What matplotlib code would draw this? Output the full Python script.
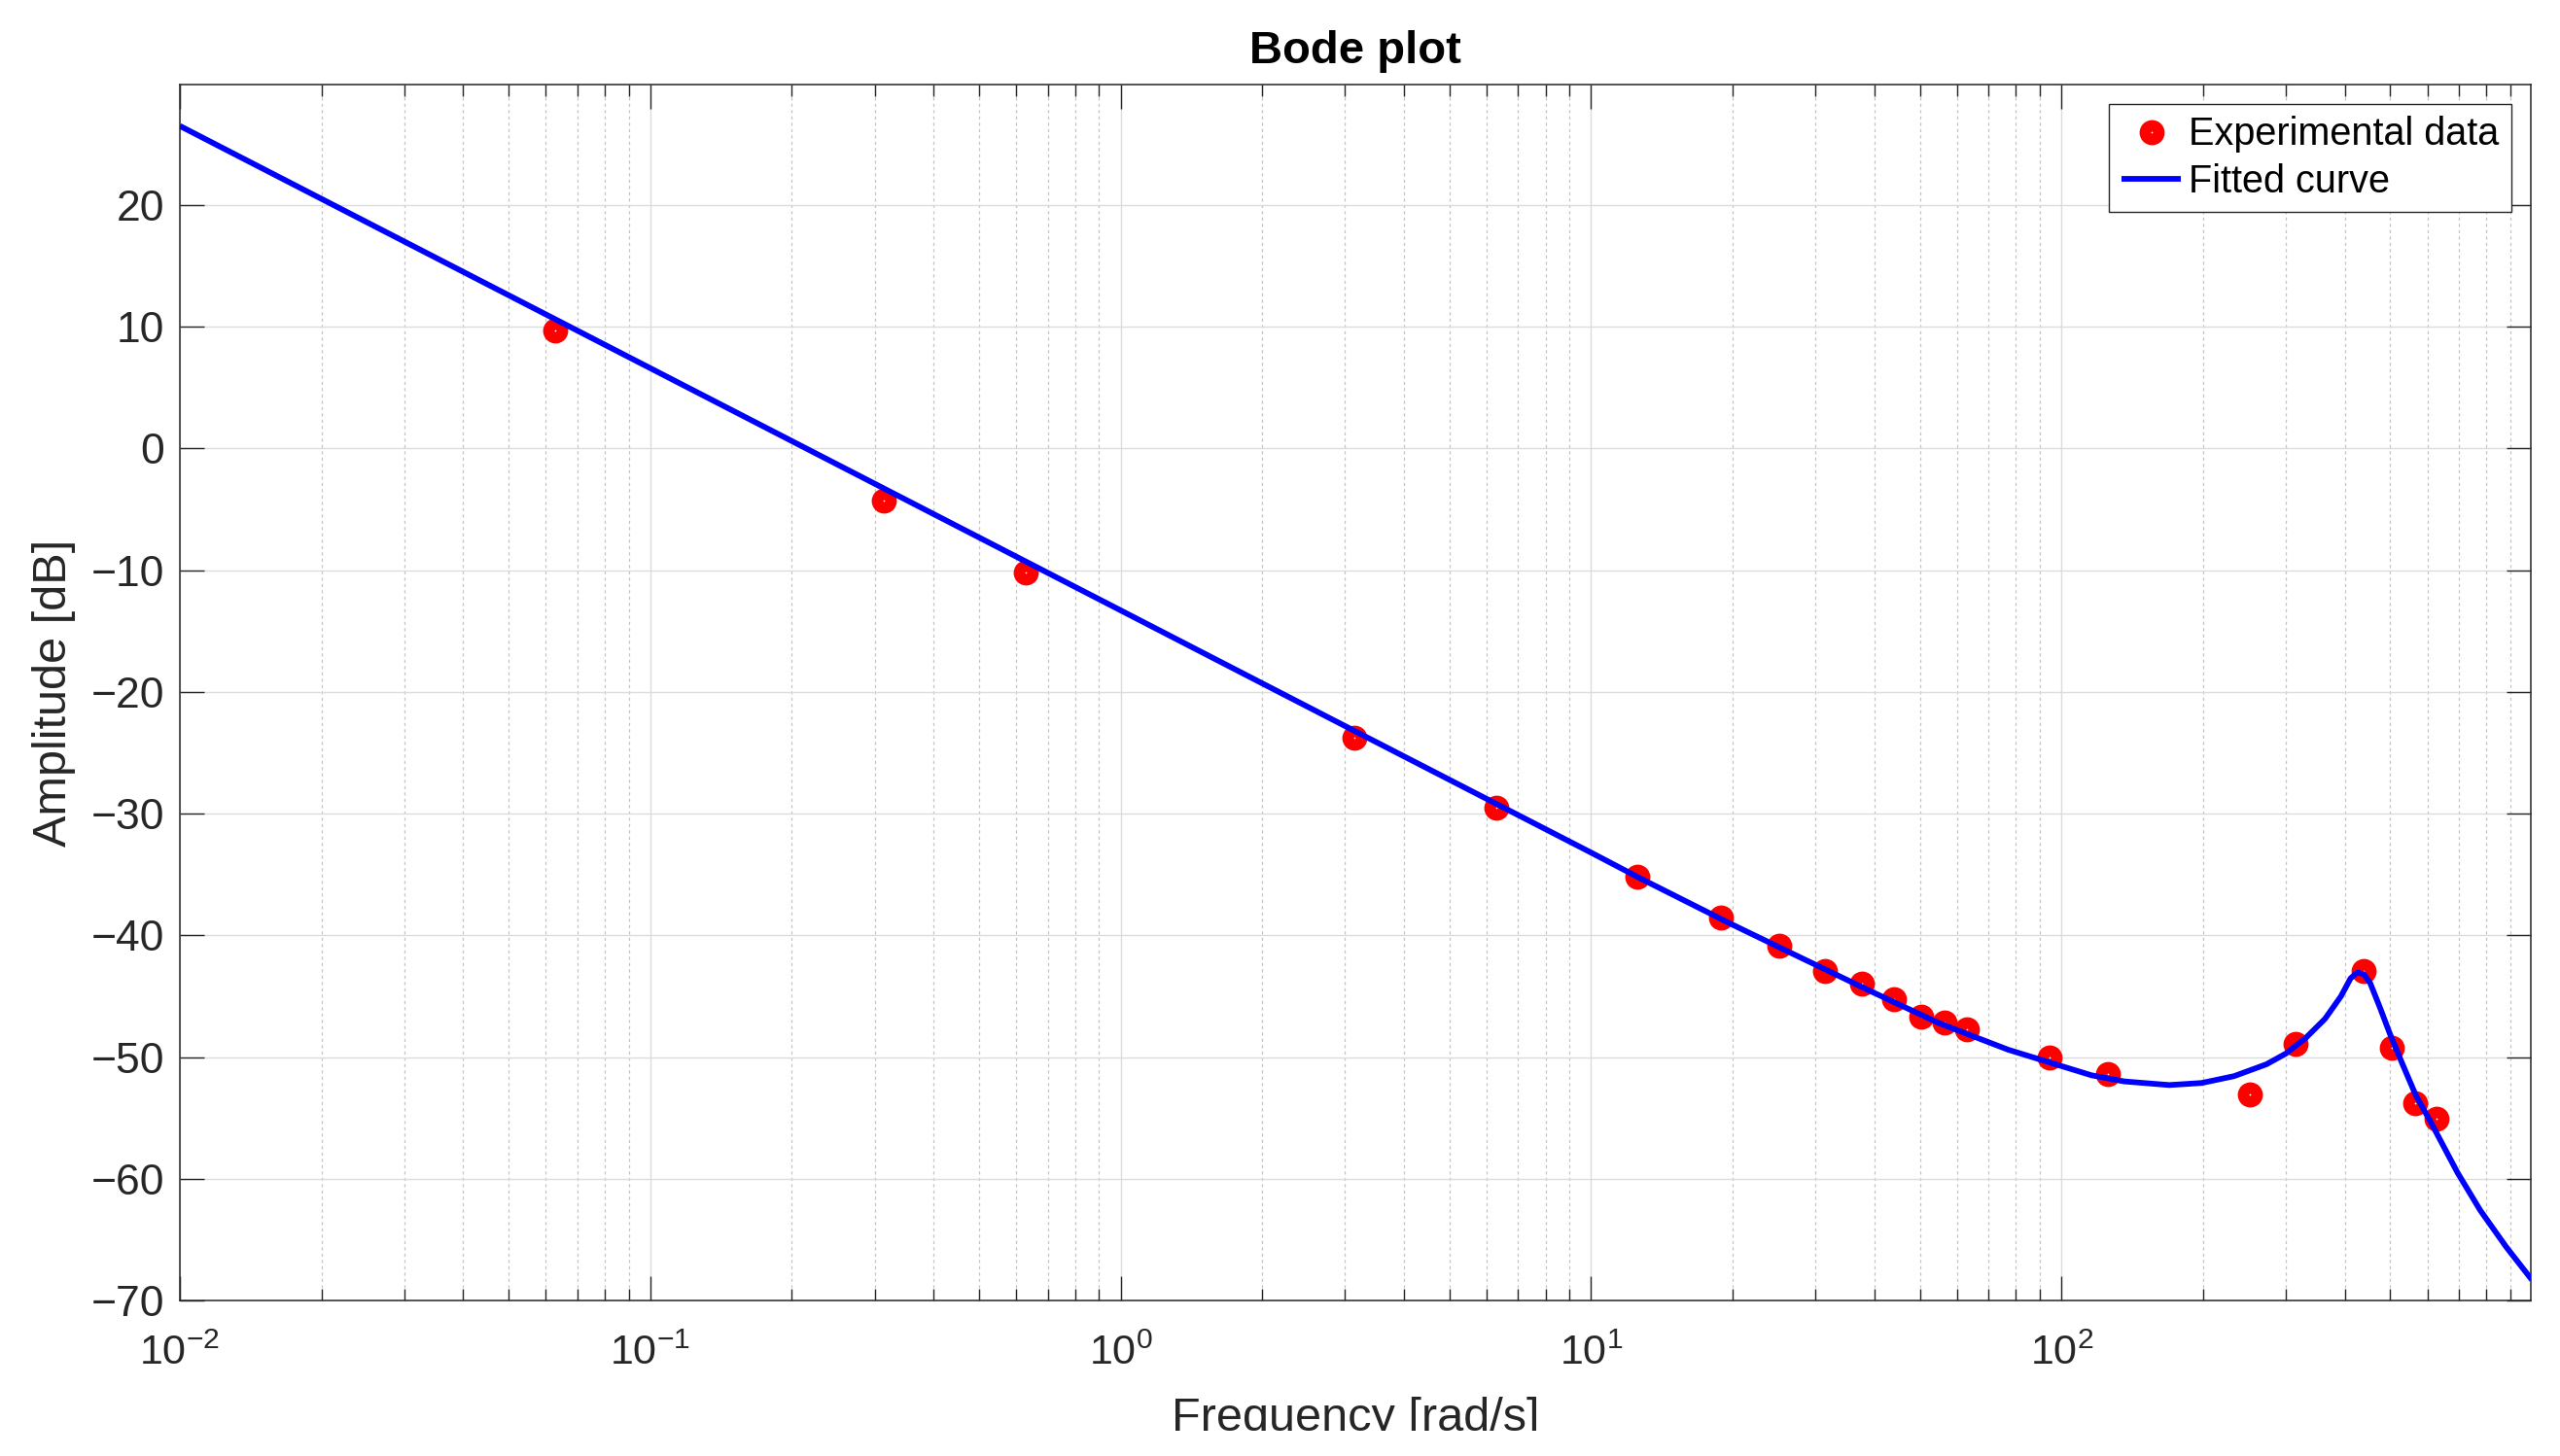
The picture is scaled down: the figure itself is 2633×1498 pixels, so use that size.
import math
import matplotlib
matplotlib.use("Agg")
import matplotlib.pyplot as plt
from matplotlib.ticker import FixedLocator, FuncFormatter, NullFormatter
from matplotlib.transforms import Bbox, TransformedBbox

# ---------------- data ----------------
exp_freq = [0.0628, 0.314, 0.628, 3.14, 6.28, 12.57, 18.85, 25.13, 31.42, 37.70,
            43.98, 50.27, 56.55, 62.83, 94.25, 125.66, 251.3, 314.2, 439.8,
            502.7, 565.5, 628.3]
exp_amp = [9.7, -4.3, -10.2, -23.8, -29.55, -35.2, -38.55, -40.86, -42.94, -43.98,
           -45.26, -46.65, -47.13, -47.74, -50.05, -51.4, -53.1, -48.9, -42.95,
           -49.25, -53.8, -55.05]

fit_freq = [0.01, 0.1, 1.0, 3.14, 10.0, 12.7, 19.8, 27.8, 39.1, 54.8, 77.1,
            115.9, 135.9, 169.5, 198.6, 232.7, 272.9, 300.0, 330.0, 363.3,
            392.9, 411.8, 425.7, 439.5, 453.3, 475.4, 498.8, 531.0, 566.0,
            612.7, 695.0, 777.0, 882.0, 1000.0]
fit_amp = [26.5, 6.6, -13.3, -23.2, -33.2, -35.3, -39.05, -41.8, -44.55, -47.2, -49.4,
           -51.5, -52.0, -52.3, -52.13, -51.57, -50.59, -49.71, -48.46, -46.86,
           -45.0, -43.53, -43.05, -43.2, -43.93, -45.93, -48.06, -50.59, -53.1,
           -55.5, -59.5, -62.6, -65.6, -68.3]

y_ticks = [-70, -60, -50, -40, -30, -20, -10, 0, 10, 20]
x_major = [1e-2, 1e-1, 1e0, 1e1, 1e2]

title_text = "Bode plot"
xlabel_text = "Frequency [rad/s]"
ylabel_text = "Amplitude [dB]"
legend_labels = ["Experimental data", "Fitted curve"]

# ---------------- style ----------------
plt.rcParams["font.family"] = ["Liberation Sans", "DejaVu Sans"]
plt.rcParams["mathtext.fontset"] = "custom"
plt.rcParams["mathtext.rm"] = "Liberation Sans"
plt.rcParams["mathtext.it"] = "Liberation Sans:italic"
plt.rcParams["mathtext.bf"] = "Liberation Sans:bold"

W, H = 2633, 1498
DPI = 100
fig = plt.figure(figsize=(W / DPI, H / DPI), dpi=DPI)
fig.subplots_adjust(left=185 / W, right=2603 / W, bottom=1 - 1338 / H, top=1 - 87 / H)
ax = fig.add_subplot(111)

axcol = "#262626"

ax.plot(exp_freq, exp_amp, linestyle="none", marker="o", markersize=10.2,
        markeredgewidth=8.4, markeredgecolor="#ff0000", markerfacecolor="white",
        label=legend_labels[0], zorder=3)
ax.plot(fit_freq, fit_amp, color="#0000ff", linewidth=4.2, label=legend_labels[1],
        zorder=4, solid_joinstyle="round", solid_capstyle="butt")

ax.set_xscale("log")
ax.set_xlim(0.01, 995)
ax.set_ylim(-70, 29.9)

ax.xaxis.set_major_locator(FixedLocator(x_major))
minors = [m * 10 ** e for e in range(-2, 3) for m in range(2, 10)]
ax.xaxis.set_minor_locator(FixedLocator(minors))
ax.xaxis.set_major_formatter(FuncFormatter(lambda v, p: r"$\mathregular{10^{%d}}$" % round(math.log10(v))))
ax.xaxis.set_minor_formatter(NullFormatter())
ax.set_yticks(y_ticks)

ax.grid(True, which="major", axis="both", color="#dcdcdc", linewidth=1.0, linestyle="-", zorder=0)
ax.grid(True, which="minor", axis="x", color="#c4c4c4", linewidth=0.9, linestyle=(0, (2.6, 2.6)), zorder=0)
ax.set_axisbelow(True)

for s in ax.spines.values():
    s.set_color(axcol)
    s.set_linewidth(1.1)

ax.tick_params(axis="both", which="both", direction="in", top=True, right=True,
               color=axcol, labelcolor=axcol, width=1.0)
ax.tick_params(axis="both", which="major", length=18)
ax.tick_params(axis="x", which="minor", length=8.7)
ax.tick_params(axis="y", which="major", labelsize=32, pad=11.5)
ax.tick_params(axis="x", which="major", labelsize=31, pad=25)

# title
ax.set_title(title_text, fontsize=34, fontweight="bold", color="black", pad=0,
             y=1 + (87 - 65) / 1251, va="baseline")

# labels
ax.set_ylabel(ylabel_text, fontsize=35, color=axcol)
ax.yaxis.set_label_coords((68.3 - 185) / 2418, 0.5)
ax.yaxis.label.set_va("baseline")

xl = ax.set_xlabel(xlabel_text, fontsize=35, color=axcol)
ax.xaxis.set_label_coords(0.5, (1338 - 1471.7) / 1251)
ax.xaxis.label.set_va("baseline")
clip = TransformedBbox(Bbox([[0, (H - 1471.7) / H], [1, 1]]), fig.transFigure)
xl.set_clip_box(clip)
xl.set_clip_on(True)

leg = ax.legend(loc="upper right", fontsize=28.5, frameon=True, fancybox=False,
                edgecolor=axcol, framealpha=1, borderaxespad=0.5, borderpad=0.32,
                labelspacing=0.26, handlelength=1.55, handletextpad=0.2,
                numpoints=1)
leg.get_frame().set_linewidth(1.0)
for t in leg.get_texts():
    t.set_color("black")

fig.savefig("out.png", dpi=DPI)
